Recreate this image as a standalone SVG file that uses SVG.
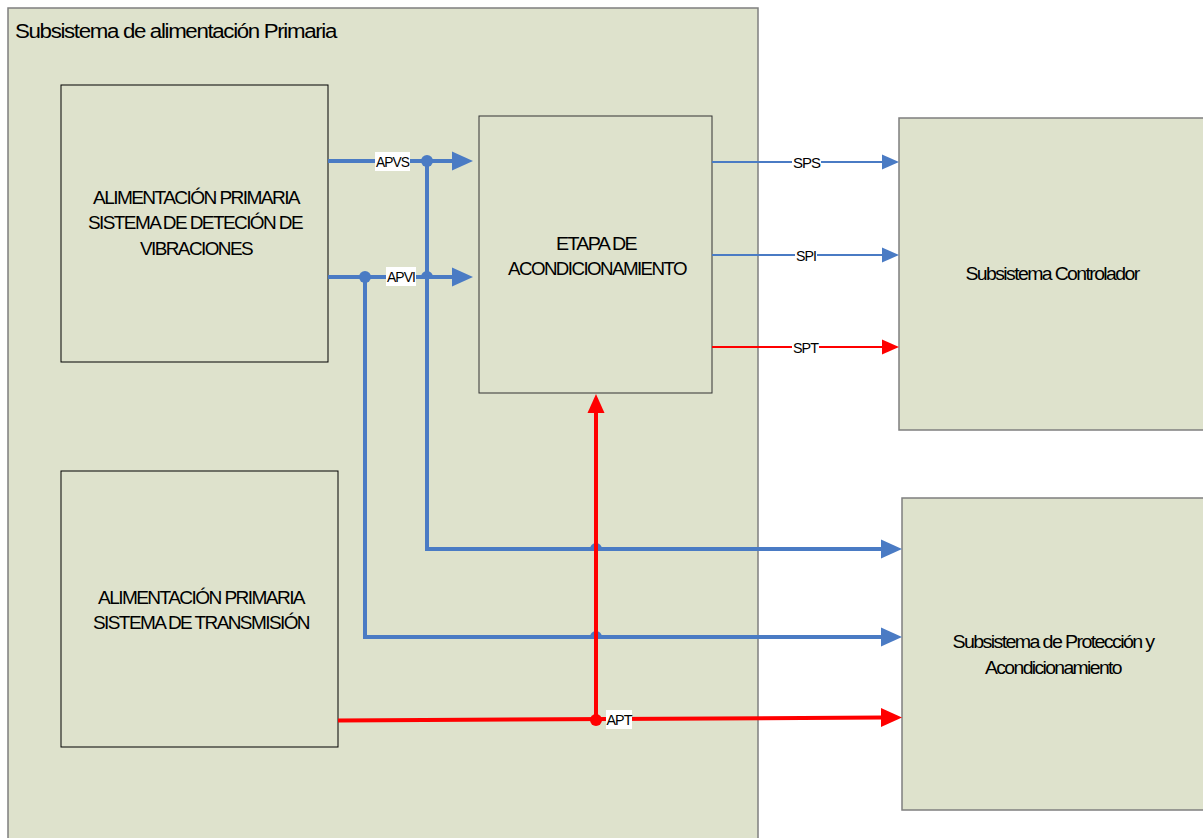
<svg xmlns="http://www.w3.org/2000/svg" width="1203" height="838" viewBox="0 0 1203 838">
<style>
.box{fill:#dee2cc;stroke:#000;stroke-width:1}
.gbox{fill:#dee2cc;stroke:#7f7f7f;stroke-width:1.5}
text{font-family:"Liberation Sans",Arial,sans-serif;fill:#000}
.t{font-size:18px;text-anchor:middle;letter-spacing:-1.5px}
.lb{font-size:15px;text-anchor:middle;letter-spacing:-1px}
.bl{stroke:#4a7bc4;fill:none;stroke-width:4}
.blt{stroke:#4a7bc4;fill:none;stroke-width:2}
.rd{stroke:#ff0000;fill:none;stroke-width:4}
.rdt{stroke:#ff0000;fill:none;stroke-width:2}
</style>
<rect width="1203" height="838" fill="#fff"/>
<g id="container">
<rect class="gbox" x="8" y="8" width="750" height="840"/>
<text x="15" y="38" style="font-size:20px;letter-spacing:-1.2px" textLength="321" lengthAdjust="spacingAndGlyphs">Subsistema de alimentación Primaria</text>
</g>
<g id="n1">
<rect class="box" x="61" y="85" width="267" height="277"/>
<text class="t" x="196" y="204" textLength="206" lengthAdjust="spacingAndGlyphs">ALIMENTACIÓN PRIMARIA</text>
<text class="t" x="195" y="229" textLength="214" lengthAdjust="spacingAndGlyphs">SISTEMA DE DETECIÓN DE</text>
<text class="t" x="196" y="255" textLength="112" lengthAdjust="spacingAndGlyphs">VIBRACIONES</text>
</g>
<g id="n2">
<rect class="box" x="479" y="116" width="233" height="277" style="stroke:#333"/>
<text class="t" x="596" y="250" textLength="80" lengthAdjust="spacingAndGlyphs">ETAPA DE</text>
<text class="t" x="597" y="275" textLength="178" lengthAdjust="spacingAndGlyphs">ACONDICIONAMIENTO</text>
</g>
<g id="n3">
<rect class="box" x="61" y="471" width="277" height="276"/>
<text class="t" x="201" y="604" textLength="206" lengthAdjust="spacingAndGlyphs">ALIMENTACIÓN PRIMARIA</text>
<text class="t" x="201" y="629" textLength="216" lengthAdjust="spacingAndGlyphs">SISTEMA DE TRANSMISIÓN</text>
</g>
<g id="n4">
<rect class="gbox" x="899" y="118" width="310" height="312"/>
<text class="t" x="1052" y="280" textLength="173" lengthAdjust="spacingAndGlyphs">Subsistema Controlador</text>
</g>
<g id="n5">
<rect class="gbox" x="902" y="498" width="310" height="312"/>
<text class="t" x="1053" y="648" textLength="201" lengthAdjust="spacingAndGlyphs">Subsistema de Protección y</text>
<text class="t" x="1053" y="674" textLength="136" lengthAdjust="spacingAndGlyphs">Acondicionamiento</text>
</g>
<g id="connectors">
<path class="bl" d="M328,161 H454"/>
<polygon points="473,161 452,151.5 452,170.5" fill="#4a7bc4"/>
<path class="bl" d="M427,161 V549 H592 a4,4 0 0 1 8,0 H882"/>
<polygon points="902,549 881,539.5 881,558.5" fill="#4a7bc4"/>
<circle cx="427" cy="161" r="6" fill="#4a7bc4"/>
<path class="bl" d="M328,277 H423 a4,4 0 0 1 8,0 H454"/>
<polygon points="473,277 452,267.5 452,286.5" fill="#4a7bc4"/>
<path class="bl" d="M365,277 V637 H592 a4,4 0 0 1 8,0 H882"/>
<polygon points="902,637 881,627.5 881,646.5" fill="#4a7bc4"/>
<circle cx="365" cy="277" r="6" fill="#4a7bc4"/>
<path class="rd" d="M338,720.5 L882,717.5"/>
<polygon points="902,717.5 881,708 881,727" fill="#ff0000"/>
<path class="rd" d="M596,720 V412"/>
<polygon points="596,394 587.5,413 604.5,413" fill="#ff0000"/>
<circle cx="596" cy="720" r="6" fill="#ff0000"/>
<path class="blt" d="M712,162 H884"/>
<polygon points="899,162 882,154.5 882,169.5" fill="#4a7bc4"/>
<path class="blt" d="M712,255 H884"/>
<polygon points="899,255 882,247.5 882,262.5" fill="#4a7bc4"/>
<path class="rdt" d="M712,347 H884"/>
<polygon points="899,347 882,339.5 882,354.5" fill="#ff0000"/>
<rect x="375" y="152" width="35" height="19" fill="#fff"/>
<text class="lb" x="392.5" y="167" textLength="33" lengthAdjust="spacingAndGlyphs">APVS</text>
<rect x="386" y="267" width="30" height="19" fill="#fff"/>
<text class="lb" x="401" y="282" textLength="28" lengthAdjust="spacingAndGlyphs">APVI</text>
<rect x="606" y="710" width="26" height="19" fill="#fff"/>
<text class="lb" x="619" y="725" textLength="25" lengthAdjust="spacingAndGlyphs">APT</text>
<rect x="792" y="153" width="29" height="18" fill="#fff"/>
<text class="lb" x="806.5" y="168" textLength="27" lengthAdjust="spacingAndGlyphs">SPS</text>
<rect x="795" y="246" width="22" height="18" fill="#fff"/>
<text class="lb" x="806" y="261" textLength="20" lengthAdjust="spacingAndGlyphs">SPI</text>
<rect x="792" y="338" width="27" height="18" fill="#fff"/>
<text class="lb" x="805.5" y="353" textLength="25" lengthAdjust="spacingAndGlyphs">SPT</text>
</g>
</svg>
